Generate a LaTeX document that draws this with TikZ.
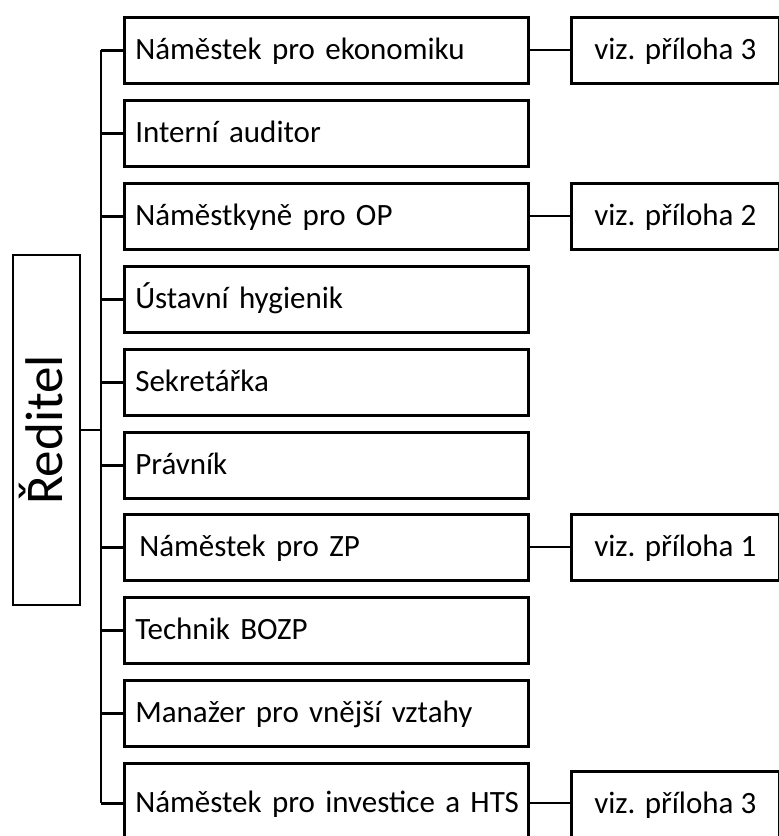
\documentclass[tikz,border=0pt]{standalone}
\usepackage{fontspec}
\setmainfont{Carlito}
\begin{document}
\begin{tikzpicture}[x=1pt,y=-1pt,
  lbl/.style={font=\fontsize{31}{36}\selectfont, text height=24pt, text depth=6pt},
  mainbox/.style={draw, line width=2.6pt, lbl, minimum width=404pt, minimum height=66pt,
    text width=382pt, inner xsep=11pt, inner ysep=0pt, anchor=north west},
  vizbox/.style={draw, line width=2.6pt, lbl, minimum width=208pt, minimum height=66pt,
    inner sep=0pt, anchor=north west},
  trunkline/.style={line width=2.8pt},
  sideline/.style={line width=2.2pt}]
\useasboundingbox (0,0) rectangle (779,836);
\clip (0,0) rectangle (779,836);
\node[draw, line width=2.6pt, rotate=90, minimum width=350pt, minimum height=67pt, inner sep=0pt,
  font=\fontsize{53}{60}\selectfont, text height=36pt, text depth=5pt] (r) at (46.5,430) {Ředitel};
\node[mainbox] (m1) at (123,16) {\mbox{Náměstek pro ekonomiku}};
\node[mainbox] (m2) at (123,99) {\mbox{Interní auditor}};
\node[mainbox] (m3) at (123,182) {\mbox{Náměstkyně pro OP}};
\node[mainbox] (m4) at (123,265) {\mbox{Ústavní hygienik}};
\node[mainbox] (m5) at (123,348) {\mbox{Sekretářka}};
\node[mainbox] (m6) at (123,431) {\mbox{Právník}};
\node[mainbox] (m7) at (123,513) {\mbox{\hspace*{4pt}Náměstek pro ZP}};
\node[mainbox] (m8) at (123,596) {\mbox{Technik BOZP}};
\node[mainbox] (m9) at (123,679) {\mbox{Manažer pro vnější vztahy}};
\node[mainbox, minimum height=80pt] (m10) at (123,762) {\mbox{Náměstek pro investice a HTS}};
\node[vizbox] (v1) at (570,16) {viz. příloha 3};
\node[vizbox] (v2) at (570,182) {viz. příloha 2};
\node[vizbox] (v3) at (570,513) {viz. příloha 1};
\node[vizbox] (v4) at (570,770) {viz. příloha 3};
\coordinate (t) at (101,0);
\draw[trunkline] (t |- m1.west) -- (t |- m10.west);
\foreach \i in {1,...,10} {\draw[trunkline] (m\i.west) -- (t |- m\i.west);}
\draw[trunkline] (r.south) -- (t |- r.south);
\draw[sideline] (m1.east) -- (v1.west);
\draw[sideline] (m3.east) -- (v2.west);
\draw[sideline] (m7.east) -- (v3.west);
\draw[sideline] (m10.east) -- (v4.west |- m10.east);
\end{tikzpicture}
\end{document}
